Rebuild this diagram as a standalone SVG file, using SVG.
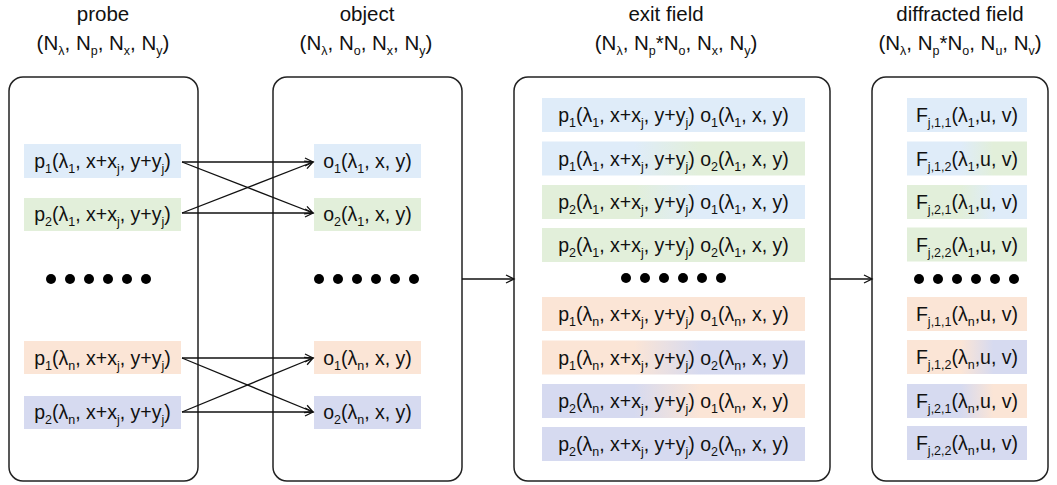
<svg xmlns="http://www.w3.org/2000/svg" width="1057" height="485" viewBox="0 0 1057 485">
<style>
text{font-family:"Liberation Sans",Arial,sans-serif;fill:#111;text-anchor:middle}
.h{font-size:20.5px}
.t{font-size:19.5px}
.s{font-size:12.5px}
.box{fill:#fff;stroke:#222;stroke-width:1.5}
.cn{stroke:#111;stroke-width:1.3;fill:none;marker-end:url(#ah)}
.dot{fill:#000}
</style>
<defs>
<marker id="ah" markerUnits="userSpaceOnUse" markerWidth="12" markerHeight="12" refX="9" refY="5" orient="auto"><path d="M1,1 L9,5 L1,9" fill="none" stroke="#111" stroke-width="1.3"/></marker>
<linearGradient id="bg"><stop offset="0.35" stop-color="#DFECF9"/><stop offset="0.6" stop-color="#E2EFDA"/></linearGradient>
<linearGradient id="gb"><stop offset="0.35" stop-color="#E2EFDA"/><stop offset="0.6" stop-color="#DFECF9"/></linearGradient>
<linearGradient id="op"><stop offset="0.35" stop-color="#FBE5D6"/><stop offset="0.6" stop-color="#D6DAF0"/></linearGradient>
<linearGradient id="po"><stop offset="0.35" stop-color="#D6DAF0"/><stop offset="0.6" stop-color="#FBE5D6"/></linearGradient>
<linearGradient id="dbg"><stop offset="0.45" stop-color="#DFECF9"/><stop offset="0.72" stop-color="#E2EFDA"/></linearGradient>
<linearGradient id="dgb"><stop offset="0.45" stop-color="#E2EFDA"/><stop offset="0.72" stop-color="#DFECF9"/></linearGradient>
<linearGradient id="dop"><stop offset="0.45" stop-color="#FBE5D6"/><stop offset="0.72" stop-color="#D6DAF0"/></linearGradient>
<linearGradient id="dpo"><stop offset="0.45" stop-color="#D6DAF0"/><stop offset="0.72" stop-color="#FBE5D6"/></linearGradient>
</defs>

<g id="headers">
<text class="h" x="103" y="21">probe</text>
<text class="h" x="103" y="50">(N<tspan class="s" dy="5">λ</tspan><tspan dy="-5">, N</tspan><tspan class="s" dy="5">p</tspan><tspan dy="-5">, N</tspan><tspan class="s" dy="5">x</tspan><tspan dy="-5">, N</tspan><tspan class="s" dy="5">y</tspan><tspan dy="-5">)</tspan></text>
<text class="h" x="367" y="21">object</text>
<text class="h" x="366" y="50">(N<tspan class="s" dy="5">λ</tspan><tspan dy="-5">, N</tspan><tspan class="s" dy="5">o</tspan><tspan dy="-5">, N</tspan><tspan class="s" dy="5">x</tspan><tspan dy="-5">, N</tspan><tspan class="s" dy="5">y</tspan><tspan dy="-5">)</tspan></text>
<text class="h" x="666" y="21">exit field</text>
<text class="h" x="676" y="50">(N<tspan class="s" dy="5">λ</tspan><tspan dy="-5">, N</tspan><tspan class="s" dy="5">p</tspan><tspan dy="-5">*N</tspan><tspan class="s" dy="5">o</tspan><tspan dy="-5">, N</tspan><tspan class="s" dy="5">x</tspan><tspan dy="-5">, N</tspan><tspan class="s" dy="5">y</tspan><tspan dy="-5">)</tspan></text>
<text class="h" x="960" y="21">diffracted field</text>
<text class="h" x="960" y="50">(N<tspan class="s" dy="5">λ</tspan><tspan dy="-5">, N</tspan><tspan class="s" dy="5">p</tspan><tspan dy="-5">*N</tspan><tspan class="s" dy="5">o</tspan><tspan dy="-5">, N</tspan><tspan class="s" dy="5">u</tspan><tspan dy="-5">, N</tspan><tspan class="s" dy="5">v</tspan><tspan dy="-5">)</tspan></text>
</g>

<g id="probe">
<rect class="box" x="9" y="77" width="189" height="404" rx="14"/>
<rect x="24" y="144" width="157" height="34" fill="#DFECF9"/>
<text class="t" x="102.5" y="168">p<tspan class="s" dy="5">1</tspan><tspan dy="-5">(λ</tspan><tspan class="s" dy="5">1</tspan><tspan dy="-5">, x+x</tspan><tspan class="s" dy="5">j</tspan><tspan dy="-5">, y+y</tspan><tspan class="s" dy="5">j</tspan><tspan dy="-5">)</tspan></text>
<rect x="24" y="198" width="157" height="33" fill="#E2EFDA"/>
<text class="t" x="102.5" y="221">p<tspan class="s" dy="5">2</tspan><tspan dy="-5">(λ</tspan><tspan class="s" dy="5">1</tspan><tspan dy="-5">, x+x</tspan><tspan class="s" dy="5">j</tspan><tspan dy="-5">, y+y</tspan><tspan class="s" dy="5">j</tspan><tspan dy="-5">)</tspan></text>
<g class="dot"><circle cx="51" cy="279" r="5"/><circle cx="70" cy="279" r="5"/><circle cx="89" cy="279" r="5"/><circle cx="108" cy="279" r="5"/><circle cx="127" cy="279" r="5"/><circle cx="146" cy="279" r="5"/></g>
<rect x="24" y="341" width="157" height="33" fill="#FBE5D6"/>
<text class="t" x="102.5" y="365">p<tspan class="s" dy="5">1</tspan><tspan dy="-5">(λ</tspan><tspan class="s" dy="5">n</tspan><tspan dy="-5">, x+x</tspan><tspan class="s" dy="5">j</tspan><tspan dy="-5">, y+y</tspan><tspan class="s" dy="5">j</tspan><tspan dy="-5">)</tspan></text>
<rect x="24" y="396" width="157" height="33" fill="#D6DAF0"/>
<text class="t" x="102.5" y="419">p<tspan class="s" dy="5">2</tspan><tspan dy="-5">(λ</tspan><tspan class="s" dy="5">n</tspan><tspan dy="-5">, x+x</tspan><tspan class="s" dy="5">j</tspan><tspan dy="-5">, y+y</tspan><tspan class="s" dy="5">j</tspan><tspan dy="-5">)</tspan></text>
</g>

<g id="object">
<rect class="box" x="273" y="77" width="189" height="404" rx="14"/>
<rect x="314" y="144" width="107" height="34" fill="#DFECF9"/>
<text class="t" x="367.5" y="168">o<tspan class="s" dy="5">1</tspan><tspan dy="-5">(λ</tspan><tspan class="s" dy="5">1</tspan><tspan dy="-5">, x, y)</tspan></text>
<rect x="314" y="198" width="107" height="33" fill="#E2EFDA"/>
<text class="t" x="367.5" y="221">o<tspan class="s" dy="5">2</tspan><tspan dy="-5">(λ</tspan><tspan class="s" dy="5">1</tspan><tspan dy="-5">, x, y)</tspan></text>
<g class="dot"><circle cx="319" cy="279" r="5"/><circle cx="338" cy="279" r="5"/><circle cx="357" cy="279" r="5"/><circle cx="376" cy="279" r="5"/><circle cx="395" cy="279" r="5"/><circle cx="414" cy="279" r="5"/></g>
<rect x="314" y="341" width="107" height="33" fill="#FBE5D6"/>
<text class="t" x="367.5" y="365">o<tspan class="s" dy="5">1</tspan><tspan dy="-5">(λ</tspan><tspan class="s" dy="5">n</tspan><tspan dy="-5">, x, y)</tspan></text>
<rect x="314" y="396" width="107" height="33" fill="#D6DAF0"/>
<text class="t" x="367.5" y="419">o<tspan class="s" dy="5">2</tspan><tspan dy="-5">(λ</tspan><tspan class="s" dy="5">n</tspan><tspan dy="-5">, x, y)</tspan></text>
</g>

<g id="exit-field">
<rect class="box" x="514" y="77" width="316" height="404" rx="14"/>
<rect x="542" y="98" width="263" height="34" fill="#DFECF9"/>
<text class="t" x="673.5" y="122">p<tspan class="s" dy="5">1</tspan><tspan dy="-5">(λ</tspan><tspan class="s" dy="5">1</tspan><tspan dy="-5">, x+x</tspan><tspan class="s" dy="5">j</tspan><tspan dy="-5">, y+y</tspan><tspan class="s" dy="5">j</tspan><tspan dy="-5">) o</tspan><tspan class="s" dy="5">1</tspan><tspan dy="-5">(λ</tspan><tspan class="s" dy="5">1</tspan><tspan dy="-5">, x, y)</tspan></text>
<rect x="542" y="141.5" width="263" height="34" fill="url(#bg)"/>
<text class="t" x="673.5" y="165.5">p<tspan class="s" dy="5">1</tspan><tspan dy="-5">(λ</tspan><tspan class="s" dy="5">1</tspan><tspan dy="-5">, x+x</tspan><tspan class="s" dy="5">j</tspan><tspan dy="-5">, y+y</tspan><tspan class="s" dy="5">j</tspan><tspan dy="-5">) o</tspan><tspan class="s" dy="5">2</tspan><tspan dy="-5">(λ</tspan><tspan class="s" dy="5">1</tspan><tspan dy="-5">, x, y)</tspan></text>
<rect x="542" y="185" width="263" height="34" fill="url(#gb)"/>
<text class="t" x="673.5" y="209">p<tspan class="s" dy="5">2</tspan><tspan dy="-5">(λ</tspan><tspan class="s" dy="5">1</tspan><tspan dy="-5">, x+x</tspan><tspan class="s" dy="5">j</tspan><tspan dy="-5">, y+y</tspan><tspan class="s" dy="5">j</tspan><tspan dy="-5">) o</tspan><tspan class="s" dy="5">1</tspan><tspan dy="-5">(λ</tspan><tspan class="s" dy="5">1</tspan><tspan dy="-5">, x, y)</tspan></text>
<rect x="542" y="228" width="263" height="34" fill="#E2EFDA"/>
<text class="t" x="673.5" y="252">p<tspan class="s" dy="5">2</tspan><tspan dy="-5">(λ</tspan><tspan class="s" dy="5">1</tspan><tspan dy="-5">, x+x</tspan><tspan class="s" dy="5">j</tspan><tspan dy="-5">, y+y</tspan><tspan class="s" dy="5">j</tspan><tspan dy="-5">) o</tspan><tspan class="s" dy="5">2</tspan><tspan dy="-5">(λ</tspan><tspan class="s" dy="5">1</tspan><tspan dy="-5">, x, y)</tspan></text>
<g class="dot"><circle cx="626" cy="278" r="5"/><circle cx="645" cy="278" r="5"/><circle cx="664" cy="278" r="5"/><circle cx="683" cy="278" r="5"/><circle cx="702" cy="278" r="5"/><circle cx="721" cy="278" r="5"/></g>
<rect x="542" y="297" width="263" height="34" fill="#FBE5D6"/>
<text class="t" x="673.5" y="321">p<tspan class="s" dy="5">1</tspan><tspan dy="-5">(λ</tspan><tspan class="s" dy="5">n</tspan><tspan dy="-5">, x+x</tspan><tspan class="s" dy="5">j</tspan><tspan dy="-5">, y+y</tspan><tspan class="s" dy="5">j</tspan><tspan dy="-5">) o</tspan><tspan class="s" dy="5">1</tspan><tspan dy="-5">(λ</tspan><tspan class="s" dy="5">n</tspan><tspan dy="-5">, x, y)</tspan></text>
<rect x="542" y="340.5" width="263" height="34" fill="url(#op)"/>
<text class="t" x="673.5" y="364.5">p<tspan class="s" dy="5">1</tspan><tspan dy="-5">(λ</tspan><tspan class="s" dy="5">n</tspan><tspan dy="-5">, x+x</tspan><tspan class="s" dy="5">j</tspan><tspan dy="-5">, y+y</tspan><tspan class="s" dy="5">j</tspan><tspan dy="-5">) o</tspan><tspan class="s" dy="5">2</tspan><tspan dy="-5">(λ</tspan><tspan class="s" dy="5">n</tspan><tspan dy="-5">, x, y)</tspan></text>
<rect x="542" y="384" width="263" height="34" fill="url(#po)"/>
<text class="t" x="673.5" y="408">p<tspan class="s" dy="5">2</tspan><tspan dy="-5">(λ</tspan><tspan class="s" dy="5">n</tspan><tspan dy="-5">, x+x</tspan><tspan class="s" dy="5">j</tspan><tspan dy="-5">, y+y</tspan><tspan class="s" dy="5">j</tspan><tspan dy="-5">) o</tspan><tspan class="s" dy="5">1</tspan><tspan dy="-5">(λ</tspan><tspan class="s" dy="5">n</tspan><tspan dy="-5">, x, y)</tspan></text>
<rect x="542" y="427" width="263" height="34" fill="#D6DAF0"/>
<text class="t" x="673.5" y="451">p<tspan class="s" dy="5">2</tspan><tspan dy="-5">(λ</tspan><tspan class="s" dy="5">n</tspan><tspan dy="-5">, x+x</tspan><tspan class="s" dy="5">j</tspan><tspan dy="-5">, y+y</tspan><tspan class="s" dy="5">j</tspan><tspan dy="-5">) o</tspan><tspan class="s" dy="5">2</tspan><tspan dy="-5">(λ</tspan><tspan class="s" dy="5">n</tspan><tspan dy="-5">, x, y)</tspan></text>
</g>

<g id="diffracted-field">
<rect class="box" x="872" y="77" width="176" height="404" rx="14"/>
<rect x="907" y="98" width="120" height="34" fill="#DFECF9"/>
<text class="t" x="967" y="122">F<tspan class="s" dy="5">j,1,1</tspan><tspan dy="-5">(λ</tspan><tspan class="s" dy="5">1</tspan><tspan dy="-5">,u, v)</tspan></text>
<rect x="907" y="141.5" width="120" height="34" fill="url(#dbg)"/>
<text class="t" x="967" y="165.5">F<tspan class="s" dy="5">j,1,2</tspan><tspan dy="-5">(λ</tspan><tspan class="s" dy="5">1</tspan><tspan dy="-5">,u, v)</tspan></text>
<rect x="907" y="185" width="120" height="34" fill="url(#dgb)"/>
<text class="t" x="967" y="209">F<tspan class="s" dy="5">j,2,1</tspan><tspan dy="-5">(λ</tspan><tspan class="s" dy="5">1</tspan><tspan dy="-5">,u, v)</tspan></text>
<rect x="907" y="227.5" width="120" height="34" fill="#E2EFDA"/>
<text class="t" x="967" y="251.5">F<tspan class="s" dy="5">j,2,2</tspan><tspan dy="-5">(λ</tspan><tspan class="s" dy="5">1</tspan><tspan dy="-5">,u, v)</tspan></text>
<g class="dot"><circle cx="919" cy="279" r="5"/><circle cx="938" cy="279" r="5"/><circle cx="957" cy="279" r="5"/><circle cx="976" cy="279" r="5"/><circle cx="995" cy="279" r="5"/><circle cx="1014" cy="279" r="5"/></g>
<rect x="907" y="297" width="120" height="34" fill="#FBE5D6"/>
<text class="t" x="967" y="321">F<tspan class="s" dy="5">j,1,1</tspan><tspan dy="-5">(λ</tspan><tspan class="s" dy="5">n</tspan><tspan dy="-5">,u, v)</tspan></text>
<rect x="907" y="340" width="120" height="34" fill="url(#dop)"/>
<text class="t" x="967" y="364">F<tspan class="s" dy="5">j,1,2</tspan><tspan dy="-5">(λ</tspan><tspan class="s" dy="5">n</tspan><tspan dy="-5">,u, v)</tspan></text>
<rect x="907" y="384" width="120" height="34" fill="url(#dpo)"/>
<text class="t" x="967" y="408">F<tspan class="s" dy="5">j,2,1</tspan><tspan dy="-5">(λ</tspan><tspan class="s" dy="5">n</tspan><tspan dy="-5">,u, v)</tspan></text>
<rect x="907" y="426" width="120" height="34" fill="#D6DAF0"/>
<text class="t" x="967" y="450">F<tspan class="s" dy="5">j,2,2</tspan><tspan dy="-5">(λ</tspan><tspan class="s" dy="5">n</tspan><tspan dy="-5">,u, v)</tspan></text>
</g>

<g id="connectors">
<line class="cn" x1="182" y1="162" x2="313" y2="162"/>
<line class="cn" x1="182" y1="162" x2="313" y2="213"/>
<line class="cn" x1="182" y1="213" x2="313" y2="162"/>
<line class="cn" x1="182" y1="213" x2="313" y2="213"/>
<line class="cn" x1="182" y1="358" x2="313" y2="358"/>
<line class="cn" x1="182" y1="358" x2="313" y2="412"/>
<line class="cn" x1="182" y1="412" x2="313" y2="358"/>
<line class="cn" x1="182" y1="412" x2="313" y2="412"/>
<line class="cn" x1="462" y1="279" x2="514" y2="279"/>
<line class="cn" x1="830" y1="279" x2="872" y2="279"/>
</g>
</svg>
